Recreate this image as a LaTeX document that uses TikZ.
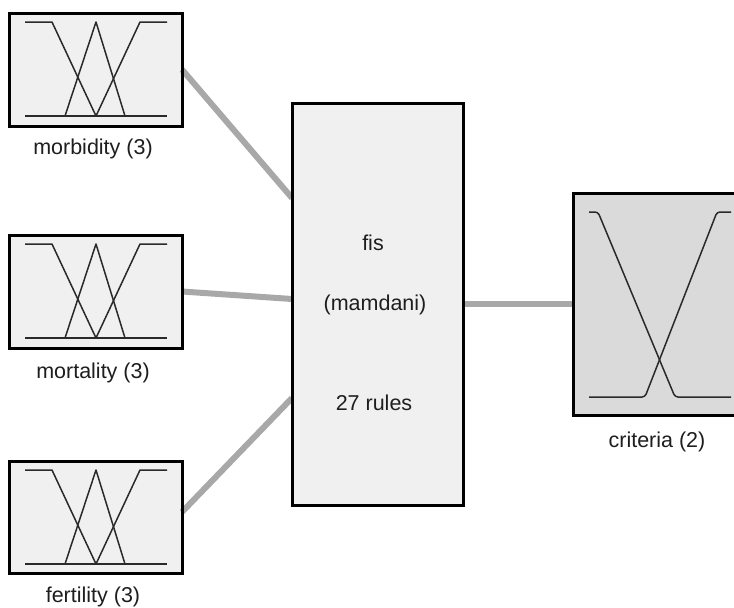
\documentclass[tikz,border=0pt]{standalone}
\usepackage{fontspec}
\setmainfont{Liberation Sans}
\definecolor{boxfill}{HTML}{F0F0F0}
\definecolor{crfill}{HTML}{DADADA}
\definecolor{conn}{HTML}{A8A8A8}
\definecolor{mfcol}{HTML}{2A2A2A}
\definecolor{txt}{HTML}{1E1E1E}
\begin{document}
\begin{tikzpicture}[x=1pt,y=-1pt,
  every node/.style={font=\fontsize{21.5}{24}\selectfont, text=txt},
  mfbox/.style={draw=black,line width=3pt,fill=boxfill,minimum width=173pt,minimum height=113pt,inner sep=0pt,outer sep=0pt},
  fisbox/.style={draw=black,line width=3pt,fill=boxfill,minimum width=171pt,minimum height=402pt,inner sep=0pt,outer sep=0pt},
  crbox/.style={draw=black,line width=3pt,fill=crfill,minimum width=165pt,minimum height=222pt,inner sep=0pt,outer sep=0pt},
  mfline/.style={draw=mfcol,line width=1.5pt,line join=round},
  connector/.style={draw=conn,line width=6pt}]
\fill[white] (0,0) rectangle (734,608);
\useasboundingbox (0,0) rectangle (734,608);
% boxes
\node[mfbox] (mb) at (95.5,69.5) {};
\node[mfbox] (mt) at (95.5,291.5) {};
\node[mfbox,minimum height=112pt] (ft) at (95.5,517) {};
\node[fisbox] (fis) at (377.5,304) {};
\node[crbox] (cr) at (655.5,304) {};
% connectors
\draw[connector] (mb.east) -- ([yshift=106pt]fis.west);
\draw[connector] (mt.east) -- ([yshift=5pt]fis.west);
\draw[connector] ([yshift=5pt]ft.east) -- ([yshift=-94pt]fis.west);
\draw[connector] (fis.east) -- (cr.west);
% redraw box borders over connector ends
\draw[line width=3pt] (mb.north west) rectangle (mb.south east);
\draw[line width=3pt] (mt.north west) rectangle (mt.south east);
\draw[line width=3pt] (ft.north west) rectangle (ft.south east);
\draw[line width=3pt] (fis.north west) rectangle (fis.south east);
\draw[line width=3pt] (cr.north west) rectangle (cr.south east);
% membership functions of the inputs
\foreach \n in {mb,mt,ft} {
  \begin{scope}[shift={(\n.north west)}]
    \draw[mfline] (16,103) -- (158,103);
    \draw[mfline] (16,9) -- (43,9) -- (87,103);
    \draw[mfline] (56,103) -- (87,9) -- (116,103);
    \draw[mfline] (87,103) -- (131,9) -- (158,9);
  \end{scope}
}
% membership functions of the output
\begin{scope}[shift={(cr.north west)}]
  \draw[mfline,rounded corners=3pt] (16,19) -- (25,19) -- (102,204) -- (158,204);
  \draw[mfline,rounded corners=3pt] (16,204) -- (72,204) -- (144,19) -- (158,19);
\end{scope}
% labels
\node (lmb) at (93,149) {morbidity (3)};
\node (lmt) at (93,373) {mortality (3)};
\node (lft) at (93,597) {fertility (3)};
\node (lcr) at (657,442) {criteria (2)};
\node (t1) at (373,243) {fis};
\node (t2) at (375,305) {(mamdani)};
\node (t3) at (374,403) {27 rules};
\end{tikzpicture}
\end{document}
